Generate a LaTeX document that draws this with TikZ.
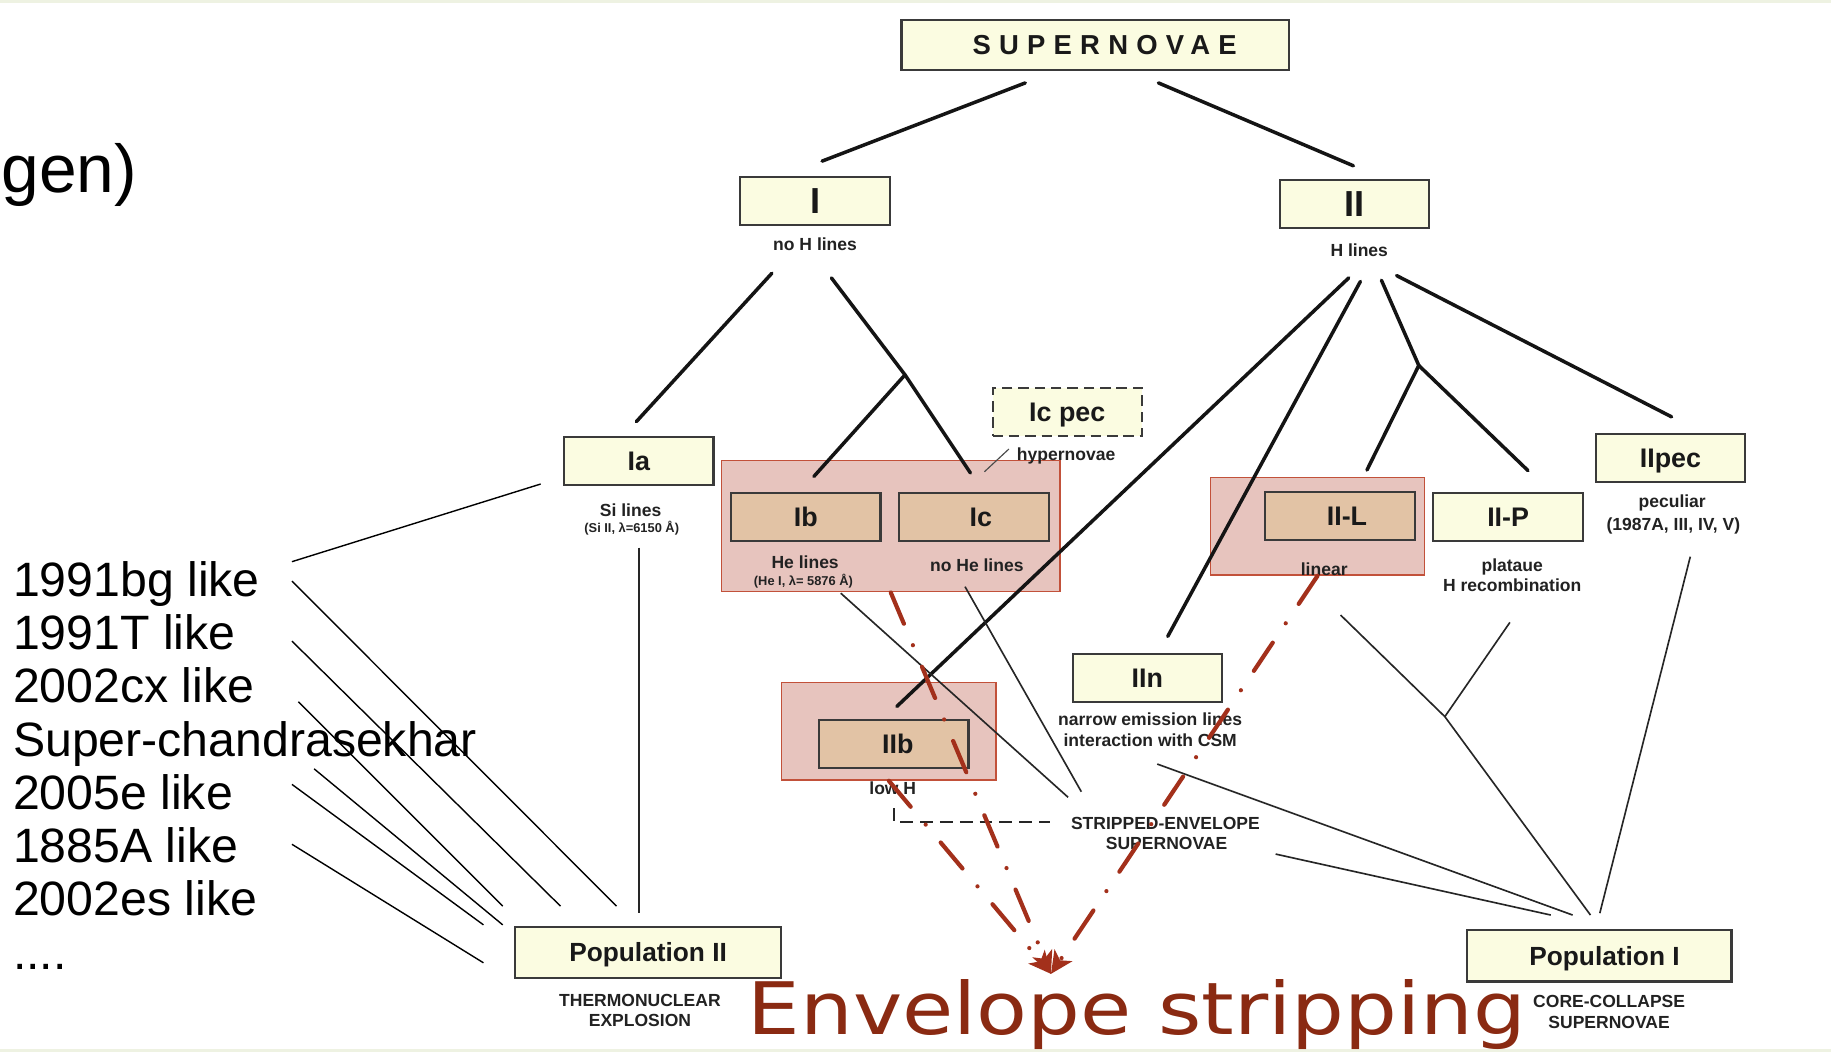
\documentclass[tikz,border=0pt]{standalone}
\usepackage{fontspec}
\setmainfont{Liberation Sans}
\newfontfamily\spacedfont[LetterSpace=30]{Liberation Sans}
\newfontfamily\handfont{DejaVu Sans}
\usetikzlibrary{arrows.meta,calc}
\definecolor{cream}{HTML}{FBFCE1}
\definecolor{tanfill}{HTML}{E2C3A5}
\definecolor{grpfill}{HTML}{E7C4BE}
\definecolor{grpline}{HTML}{C2513A}
\definecolor{arrred}{HTML}{A3301B}
\definecolor{handred}{HTML}{8A2A12}
\definecolor{boxline}{HTML}{3A3A3A}
\definecolor{stripcol}{HTML}{EEF2E2}
\definecolor{lbltext}{HTML}{222222}
\newcommand\fBig{\fontsize{31}{36}\selectfont\bfseries}
\newcommand\fBoxLbl{\fontsize{23}{27}\selectfont\bfseries}
\newcommand\fPop{\fontsize{22.5}{27}\selectfont\bfseries}
\newcommand\fLbl{\fontsize{15}{18}\selectfont\bfseries}
\newcommand\fTiny{\fontsize{11}{13}\selectfont\bfseries}
\newcommand\fList{\fontsize{41.3}{49}\selectfont}
\newcommand\fTitle{\fontsize{58}{70}\selectfont}
\newcommand\fSN{\fontsize{23.5}{28}\selectfont\spacedfont\bfseries}
\newcommand\fHand{\fontsize{62}{70}\selectfont\handfont}
\begin{document}
\begin{tikzpicture}[x=1pt,y=-1pt,
  box/.style={draw=boxline, line width=1.8pt, fill=cream, minimum width=128pt,
    minimum height=41pt, inner sep=0pt, text depth=0pt, font=\fBoxLbl, text=black!90},
  tanbox/.style={box, fill=tanfill},
  grp/.style={draw=grpline, line width=1.3pt, fill=grpfill, inner sep=0pt},
  tree/.style={line width=3pt, line cap=round, draw=black!92},
  thinln/.style={line width=1.4pt, draw=black!85},
  listln/.style={line width=1.2pt, draw=black},
  lbl/.style={font=\fLbl, text=lbltext, inner sep=0pt, anchor=base},
  tinylbl/.style={lbl, font=\fTiny},
  listtxt/.style={font=\fList, anchor=base west, inner sep=0pt},
  redarr/.style={draw=arrred, line width=3.6pt, line cap=round,
    dash pattern=on 29pt off 20pt on 0pt off 20pt,
    -{Stealth[length=19pt,width=18pt,inset=5pt]}}
]
\useasboundingbox (0,0) rectangle (1568,901);
\clip (0,0) rectangle (1568,901);
\fill[white] (0,0) rectangle (1568,901);
\fill[stripcol] (0,0) rectangle (1568,3);
\fill[stripcol] (0,898.5) rectangle (1568,901);

% title fragment and list
\node[anchor=base west, inner sep=0pt, font=\fTitle] (title) at (1,165) {gen)};
\node[listtxt] (t1) at (11,511) {1991bg like};
\node[listtxt] (t2) at (11,556.5) {1991T like};
\node[listtxt] (t3) at (11,602) {2002cx like};
\node[listtxt] (t4) at (11,647.5) {Super-chandrasekhar};
\node[listtxt] (t5) at (11,693) {2005e like};
\node[listtxt] (t6) at (11,738.5) {1885A like};
\node[listtxt] (t7) at (11,784) {2002es like};
\node[listtxt] (t8) at (11,830) {....};

% group highlight rectangles
\node[grp, minimum width=289.6pt, minimum height=112.2pt] (g1) at (762.8,450.6) {};
\node[grp, minimum width=183.4pt, minimum height=83.4pt] (g2) at (1128.3,450.7) {};
\node[grp, minimum width=183.6pt, minimum height=83.4pt] (g3) at (761.2,626.3) {};

% coordinates
\coordinate (snL) at (878,71);   \coordinate (cIT) at (704,138);
\coordinate (snR) at (992,71);   \coordinate (cIIT) at (1159,142);
\coordinate (cIl) at (661,234);  \coordinate (cIaT) at (545,361);
\coordinate (cIr) at (712,238);  \coordinate (cJ1) at (775,321);
\coordinate (cIbT) at (697,408); \coordinate (cIcT) at (831,405);
\coordinate (cIIa) at (1155,238); \coordinate (cIIbT) at (768,605);
\coordinate (cIIb) at (1165,241); \coordinate (cIInT) at (1000,545);
\coordinate (cIIc) at (1183,240); \coordinate (cJ2) at (1215,313);
\coordinate (cIILT) at (1170.6,402.5); \coordinate (cIIPT) at (1308.5,403);
\coordinate (cIId) at (1196,236); \coordinate (cIIpecT) at (1431.5,357);

\coordinate (cIaB) at (547,469);   \coordinate (cP2a) at (547,782);
\coordinate (cIbB) at (720,508);   \coordinate (cSEa) at (914.7,682.8);
\coordinate (cIcB) at (826.4,502.4); \coordinate (cSEb) at (926,678);
\coordinate (cHypA) at (864,384.5); \coordinate (cHypB) at (843,404);
\coordinate (cIInB) at (991,654.3); \coordinate (cP1a) at (1346.7,783.6);
\coordinate (cSEc) at (1092.4,731.4); \coordinate (cP1b) at (1328,783.6);
\coordinate (cIILB) at (1148,526.7); \coordinate (cJ3) at (1237.3,613.7);
\coordinate (cP1c) at (1362,783.6);
\coordinate (cIIPB) at (1293,533);
\coordinate (cIIpecB) at (1447.5,476.7); \coordinate (cP1d) at (1370,782);
\coordinate (cLow1) at (765.6,692); \coordinate (cLow2) at (765.6,703.7);
\coordinate (cLow3) at (899,703.7);

\coordinate (cL1a) at (250,481);   \coordinate (cL1b) at (463,414.5);
\coordinate (cL2a) at (250,497.6); \coordinate (cL2b) at (528,776);
\coordinate (cL3a) at (250,549);   \coordinate (cL3b) at (480,776);
\coordinate (cL4a) at (255.5,601); \coordinate (cL4b) at (430.5,776);
\coordinate (cL5a) at (269,658.4); \coordinate (cL5b) at (430.5,792);
\coordinate (cL6a) at (250,671.7); \coordinate (cL6b) at (414,792);
\coordinate (cL7a) at (250,723);   \coordinate (cL7b) at (414,824.5);
\coordinate (cTip) at (900,834);

% tree connectors
\draw[tree] (snL) -- (cIT);
\draw[tree] (snR) -- (cIIT);
\draw[tree] (cIl) -- (cIaT);
\draw[tree] (cIr) -- (cJ1);
\draw[tree] (cJ1) -- (cIbT);
\draw[tree] (cJ1) -- (cIcT);
\draw[tree] (cIIa) -- (cIIbT);
\draw[tree] (cIIb) -- (cIInT);
\draw[tree] (cIIc) -- (cJ2);
\draw[tree] (cJ2) -- (cIILT);
\draw[tree] (cJ2) -- (cIIPT);
\draw[tree] (cIId) -- (cIIpecT);

% thin connectors
\draw[thinln] (cIaB) -- (cP2a);
\draw[thinln] (cIbB) -- (cSEa);
\draw[thinln] (cIcB) -- (cSEb);
\draw[line width=1pt, draw=black!70] (cHypA) -- (cHypB);
\draw[thinln] (cIInB) -- (cP1a);
\draw[thinln] (cSEc) -- (cP1b);
\draw[thinln] (cIILB) -- (cJ3) -- (cP1c);
\draw[thinln] (cIIPB) -- (cJ3);
\draw[thinln] (cIIpecB) -- (cP1d);
\draw[thinln, dash pattern=on 11pt off 6pt] (cLow1) -- (cLow2) -- (cLow3);

% list connectors
\draw[listln] (cL1a) -- (cL1b);
\draw[listln] (cL2a) -- (cL2b);
\draw[listln] (cL3a) -- (cL3b);
\draw[listln] (cL4a) -- (cL4b);
\draw[listln] (cL5a) -- (cL5b);
\draw[listln] (cL6a) -- (cL6b);
\draw[listln] (cL7a) -- (cL7b);

% boxes
\node[box, minimum width=332pt, minimum height=43pt, font=\fSN] (sn) at (938,38.5) {\kern16pt SUPERNOVAE};
\node[box, font=\fBig] (I) at (698,172) {I};
\node[box, font=\fBig] (II) at (1160,175) {II};
\node[box, dash pattern=on 9pt off 5pt] (icpec) at (914,353) {Ic pec};
\node[box] (Ia) at (547,395) {Ia};
\node[tanbox] (Ib) at (690,442.5) {Ib};
\node[tanbox] (Ic) at (834,443) {\kern12pt Ic};
\node[tanbox] (IIL) at (1147.5,442) {\kern12pt II-L};
\node[box] (IIP) at (1291.5,443) {II-P};
\node[box] (IIpec) at (1430.5,392.5) {IIpec};
\node[box] (IIn) at (982.5,580.5) {IIn};
\node[tanbox] (IIb) at (765.4,637) {\kern7pt IIb};
\node[box, minimum width=228pt, minimum height=44pt, font=\fPop] (pop2) at (555,815.5) {Population II};
\node[box, minimum width=226.5pt, minimum height=44pt, font=\fPop] (pop1) at (1369.5,818.5) {\kern9pt Population I};

% labels
\node[lbl] (lNoH) at (698,214.5) {no H lines};
\node[lbl] (lH) at (1164,219.5) {H lines};
\node[lbl] (lSi) at (540,442.5) {Si lines};
\node[tinylbl] (lSi2) at (541,456) {(Si II, λ=6150 Å)};
\node[lbl] (lHe) at (689.5,486.5) {He lines};
\node[tinylbl] (lHe2) at (688,501) {(He I, λ= 5876 Å)};
\node[lbl] (lNoHe) at (836.5,489.5) {no He lines};
\node[lbl] (lHyp) at (913,394.5) {hypernovae};
\node[lbl] (lLin) at (1134,493) {linear};
\node[lbl] (lPla) at (1295,489.5) {plataue};
\node[lbl] (lRec) at (1295,506.5) {H recombination};
\node[lbl] (lPec) at (1432,434.5) {peculiar};
\node[lbl] (lPec2) at (1433,454.5) {(1987A, III, IV, V)};
\node[lbl] (lNar) at (985,621.5) {narrow emission lines};
\node[lbl] (lInt) at (985,639.5) {interaction with CSM};
\node[lbl] (lLow) at (764.5,680.5) {low H};
\node[lbl] (lSE1) at (998,710) {STRIPPED-ENVELOPE};
\node[lbl] (lSE2) at (999,727.5) {SUPERNOVAE};
\node[lbl] (lTh1) at (548,861.5) {THERMONUCLEAR};
\node[lbl] (lTh2) at (548,879) {EXPLOSION};
\node[lbl] (lCC1) at (1378,862.5) {CORE-COLLAPSE};
\node[lbl] (lCC2) at (1378,880.5) {SUPERNOVAE};

% red dash-dot arrows
\draw[redarr] (g1.south) -- (cTip);
\draw[redarr] (g3.south) -- (cTip);
\draw[redarr] (g2.south) -- (cTip);

\node[anchor=base west, inner sep=0pt, text=handred, font=\fHand, xscale=1.15] (env) at (640,886) {Envelope stripping};
\end{tikzpicture}
\end{document}
